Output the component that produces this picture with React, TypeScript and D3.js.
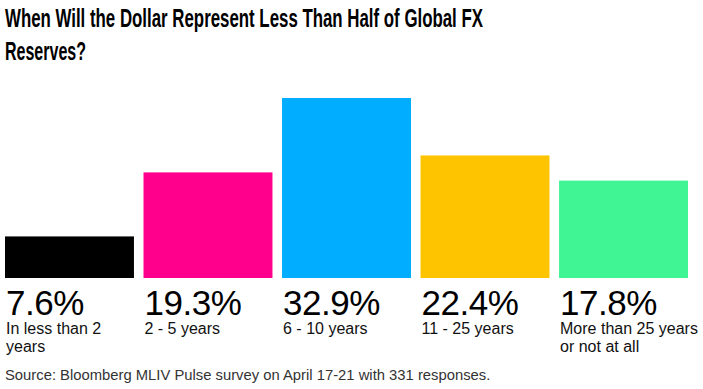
import React from 'react';
import * as d3 from 'd3';

const categories = [
  ['In less than 2', 'years'],
  ['2 - 5 years'],
  ['6 - 10 years'],
  ['11 - 25 years'],
  ['More than 25 years', 'or not at all'],
];
const shares = [7.6, 19.3, 32.9, 22.4, 17.8];
const colors = ['#000000', '#ff008c', '#00adff', '#ffc400', '#40f594'];

const width = 703;
const height = 389;
const margin = { top: 98, left: 5, right: 15, bottom: 111 };

export default function App() {
  const x = d3
    .scaleBand<number>()
    .domain(d3.range(shares.length))
    .range([margin.left, width - margin.right])
    .paddingInner(0.069)
    .paddingOuter(0);

  const y = d3
    .scaleLinear()
    .domain([0, d3.max(shares) as number])
    .range([height - margin.bottom, margin.top]);

  const base = y(0);

  return (
    <svg
      width={width}
      height={height}
      style={{ position: 'absolute', left: 0, top: 0, background: '#fff' }}
      fontFamily="'Liberation Sans', Arial, sans-serif"
    >
      <g fontWeight="bold" fontSize={25} fill="#000" fontFamily="'Liberation Sans Narrow', 'Liberation Sans', Arial, sans-serif">
        <text x={5} y={27} textLength={478} lengthAdjust="spacingAndGlyphs">
          When Will the Dollar Represent Less Than Half of Global FX
        </text>
        <text x={5} y={60} textLength={81} lengthAdjust="spacingAndGlyphs">
          Reserves?
        </text>
      </g>

      {shares.map((v, i) => (
        <g key={i}>
          <rect
            x={x(i)}
            y={y(v)}
            width={x.bandwidth()}
            height={base - y(v)}
            fill={colors[i]}
          />
          <text x={(x(i) as number) + 1} y={base + 37} fontSize={35} fill="#000" letterSpacing={-0.5}>
            {v.toFixed(1)}%
          </text>
          {categories[i].map((line, j) => (
            <text key={j} x={(x(i) as number) + 1} y={base + 56 + j * 18} fontSize={16} fill="#111">
              {line}
            </text>
          ))}
        </g>
      ))}

      <text x={5} y={380} fontSize={14.8} fill="#333">
        Source: Bloomberg MLIV Pulse survey on April 17-21 with 331 responses.
      </text>
    </svg>
  );
}
